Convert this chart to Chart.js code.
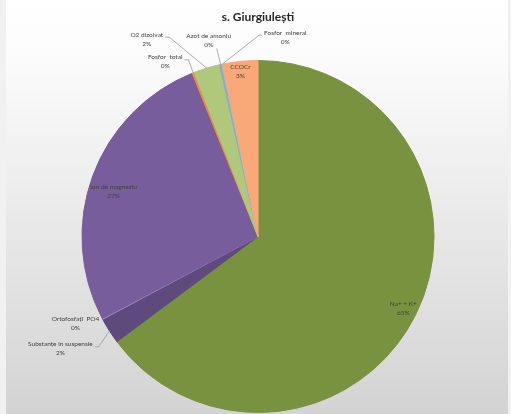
<!DOCTYPE html>
<html>
<head>
<meta charset="utf-8">
<script src="https://cdn.jsdelivr.net/npm/chart.js@4/dist/chart.umd.min.js"></script>
<style>
	body { margin: 0; background: #f1f1f1; }
	canvas { display: block; }
</style>
</head>
<body>
<canvas id="pie" width="511" height="414"></canvas>
<script>
const labels = [
	'Na+ + K+',
	'Substanțe în suspensie',
	'Ortofosfați  PO4',
	'Ion de magneziu',
	'Fosfor  total',
	'O2 dizolvat',
	'Azot de amoniu',
	'Fosfor  mineral',
	'CCOCr',
]
const values = [64.8, 2.4, 0.1, 26.6, 0.2, 2.4, 0.2, 0.1, 3.2]
const colors = [
	'#78923f',
	'#5f4a7e',
	'#9a86bb',
	'#775d9b',
	'#f08a3c',
	'#afc87c',
	'#8fa8c8',
	'#b9b9b9',
	'#f9a877',
]

// where each label goes: f = fraction of radius along the slice middle,
// dx/dy = extra shift, leader = side of the text the leader line leaves from
const labelLayout = [
	{ f: 0.93, dx: -1, dy: -1 },
	{ f: 1, dx: -49, dy: 18, leader: 'right' },
	{ f: 1, dx: -27, dy: 5 },
	{ f: 0.85, dx: -4, dy: 6 },
	{ f: 1, dx: -28, dy: -11, leader: 'right' },
	{ f: 1, dx: -60, dy: -29, leader: 'right' },
	{ f: 1, dx: -12, dy: -24, leader: 'bottom' },
	{ f: 1, dx: 63, dy: -27, leader: 'left' },
	{ f: 0.935, dx: -1, dy: -1 },
]

const total = values.reduce((a, b) => a + b, 0)

const backdrop = {
	id: 'backdrop',
	beforeDraw(chart) {
		const { ctx, width, height } = chart
		ctx.save()
		ctx.fillStyle = '#f1f1f1'
		ctx.fillRect(0, 0, width, height)
		const g = ctx.createLinearGradient(0, 0, 0, height)
		g.addColorStop(0, '#ffffff')
		g.addColorStop(0.15, '#fbfbfb')
		g.addColorStop(1, '#d3d3d3')
		ctx.fillStyle = g
		ctx.fillRect(6, 0, width - 9, height)
		ctx.restore()
	},
}

const sliceLabels = {
	id: 'sliceLabels',
	afterDatasetsDraw(chart) {
		const { ctx } = chart
		const arcs = chart.getDatasetMeta(0).data
		ctx.save()
		ctx.font = '6.5px Lato'
		ctx.fillStyle = '#404040'
		ctx.textAlign = 'center'
		ctx.textBaseline = 'middle'
		arcs.forEach((arc, i) => {
			const lay = labelLayout[i]
			const { x, y, outerRadius, startAngle, endAngle } = arc.getProps(
				['x', 'y', 'outerRadius', 'startAngle', 'endAngle'],
				true
			)
			const mid = (startAngle + endAngle) / 2
			const ex = x + Math.cos(mid) * outerRadius
			const ey = y + Math.sin(mid) * outerRadius
			const cx = x + Math.cos(mid) * outerRadius * lay.f + lay.dx
			const cy = y + Math.sin(mid) * outerRadius * lay.f + lay.dy
			const pct = Math.round((values[i] / total) * 100) + '%'
			const w = Math.max(ctx.measureText(labels[i]).width, ctx.measureText(pct).width)

			if (lay.leader) {
				ctx.strokeStyle = '#9a9a9a'
				ctx.lineWidth = 0.8
				ctx.beginPath()
				if (lay.leader === 'right') {
					ctx.moveTo(cx + w / 2 + 2, cy - 2)
					ctx.lineTo(cx + w / 2 + 6, cy - 2)
				} else if (lay.leader === 'left') {
					ctx.moveTo(cx - w / 2 - 2, cy - 2)
					ctx.lineTo(cx - w / 2 - 5, cy - 2)
				} else {
					ctx.moveTo(cx + 8, cy + 8)
				}
				ctx.lineTo(ex, ey)
				ctx.stroke()
			}
			ctx.fillText(labels[i], cx, cy - 4.5)
			ctx.fillText(pct, cx, cy + 4.5)
		})
		ctx.restore()
	},
}

new Chart(document.getElementById('pie'), {
	type: 'pie',
	data: {
		labels: labels,
		datasets: [
			{
				data: values,
				backgroundColor: colors,
				borderColor: colors,
				borderWidth: 1,
			},
		],
	},
	options: {
		responsive: false,
		animation: false,
		devicePixelRatio: 1,
		layout: { padding: { top: 0, bottom: 1, left: 5, right: 0 } },
		plugins: {
			legend: { display: false },
			tooltip: { enabled: false },
			title: {
				display: true,
				text: 's. Giurgiulești',
				color: '#262626',
				font: { family: 'Lato', size: 12, weight: 'bold', lineHeight: 1.2 },
				padding: { top: 10, bottom: 35.6 },
			},
		},
	},
	plugins: [backdrop, sliceLabels],
})
</script>
</body>
</html>
